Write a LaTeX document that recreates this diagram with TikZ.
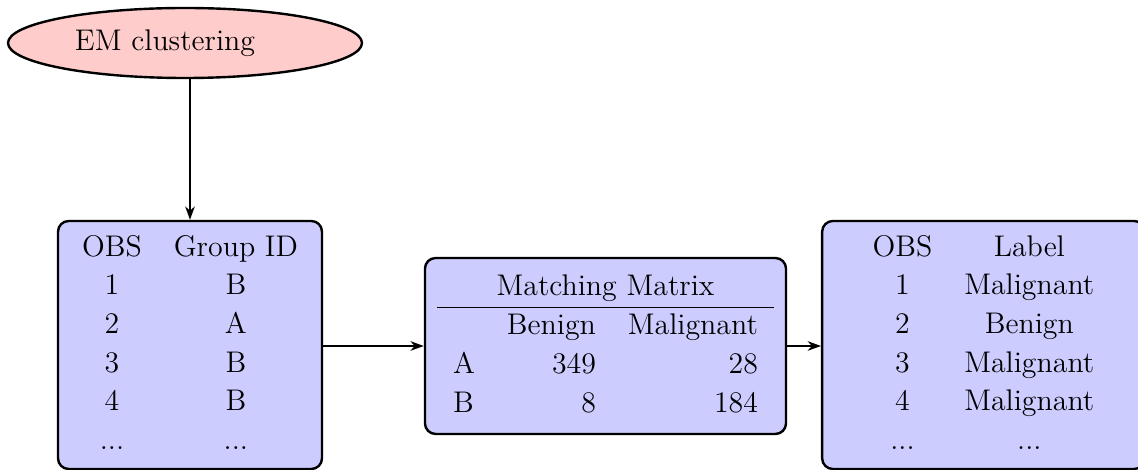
\documentclass[tikz,border=0pt]{standalone}
\usetikzlibrary{shapes.geometric,arrows.meta}
\tikzset{
  box/.style={draw=black, line width=0.9pt, fill=blue!20, rounded corners=4pt,
    inner xsep=0pt, inner ysep=0pt, align=center},
  cloud/.style={ellipse, draw=black, line width=0.9pt, fill=red!20, inner sep=0pt,
    minimum width=132.75pt, minimum height=26.25pt},
  link/.style={line width=0.6pt, -{Stealth[length=5pt,width=3.6pt,inset=1.6pt]}}
}
\begin{document}
\begin{tikzpicture}[x=0.375pt, y=-0.375pt, font=\fontsize{11.2}{14.5}\selectfont]
\clip (0,0) rectangle (1138,470);
\node[cloud] (em) at (185,43) {EM clustering\kern15pt};
\node[box, minimum width=99pt, minimum height=93pt] (b1) at (190,345)
  {\begin{tabular}{cc}
   OBS & Group ID\\
   1 & B\\
   2 & A\\
   3 & B\\
   4 & B\\
   ... & ...
   \end{tabular}};
\node[box, minimum width=135.4pt, minimum height=66pt] (b2) at (605.5,346)
  {\begin{tabular}{lrr}
   \multicolumn{3}{c}{Matching Matrix}\\ \hline
   & Benign & Malignant\\
   A & 349 & 28\\
   B & 8 & 184
   \end{tabular}};
\node[box, minimum width=121pt, minimum height=93pt] (b3) at (983.5,345)
  {\begin{tabular}{cc}
   OBS & Label\\
   1 & Malignant\\
   2 & Benign\\
   3 & Malignant\\
   4 & Malignant\\
   ... & ...
   \end{tabular}};
\draw[link] (em.south -| b1.north) -- (b1.north);
\draw[link] (b1.east |- b2.west) -- (b2.west);
\draw[link] (b2.east) -- (b2.east -| b3.west);
\end{tikzpicture}
\end{document}
